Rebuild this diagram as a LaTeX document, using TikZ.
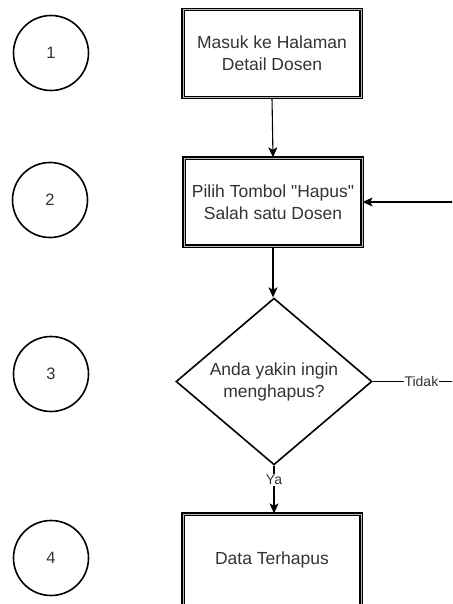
\documentclass[tikz,border=0pt]{standalone}
\usepackage{fontspec}
\setmainfont{Liberation Sans}
\usetikzlibrary{shapes.geometric,arrows.meta}
\definecolor{txt}{HTML}{333333}
\tikzset{
  stepnum/.style={circle, draw=black, line width=1.6pt, minimum size=75pt,
    inner sep=0pt, text=txt, font=\fontsize{16.5}{19}\selectfont},
  procbox/.style={rectangle, draw=black, line width=1.3pt, double=gray!55,
    double distance=0.6pt, minimum width=178pt, minimum height=88pt,
    align=center, text=txt, font=\fontsize{17.5}{22}\selectfont},
  decide/.style={diamond, draw=black, line width=1.6pt, minimum width=196pt,
    minimum height=149pt, inner sep=0pt, align=center, text=txt,
    font=\fontsize{17.5}{22}\selectfont},
  flow/.style={line width=1.1pt, -{Stealth[length=10pt,width=9pt,inset=2.5pt]}},
  edgelbl/.style={fill=white, inner sep=1pt, text=txt, font=\fontsize{14}{16}\selectfont}
}
\begin{document}
\begin{tikzpicture}[x=1pt, y=-1pt]
  \useasboundingbox (0,0) rectangle (452,604);
  \clip (0,0) rectangle (452,604);
  \fill[white] (0,0) rectangle (452,604);

  % step numbers
  \node[stepnum] (n1) at (51,53) {1};
  \node[stepnum] (n2) at (50,200) {2};
  \node[stepnum] (n3) at (51,374) {3};
  \node[stepnum] (n4) at (51,558) {4};

  % process steps
  \node[procbox] (b1) at (272,53.5) {Masuk ke Halaman\\Detail Dosen};
  \node[procbox] (b2) at (273,202) {Pilih Tombol \textquotedbl Hapus\textquotedbl\\Salah satu Dosen};
  \node[decide]  (q)  at (274,381.5) {Anda yakin ingin\\menghapus?};
  \node[procbox, minimum height=92pt] (b4) at (272,560) {Data Terhapus};
  \coordinate (back) at (470,381.5);

  % connectors
  \draw[flow] (b1.south) -- (b2.north);
  \draw[flow] (b2.south) -- (b2.south |- q.north);
  \draw[flow] (q.south) -- node[edgelbl, pos=0.3] {Ya} (q.south |- b4.north);
  \draw[flow] (q.east) -- node[edgelbl, pos=0.5] {Tidak} (back) |- (b2.east);
\end{tikzpicture}
\end{document}
